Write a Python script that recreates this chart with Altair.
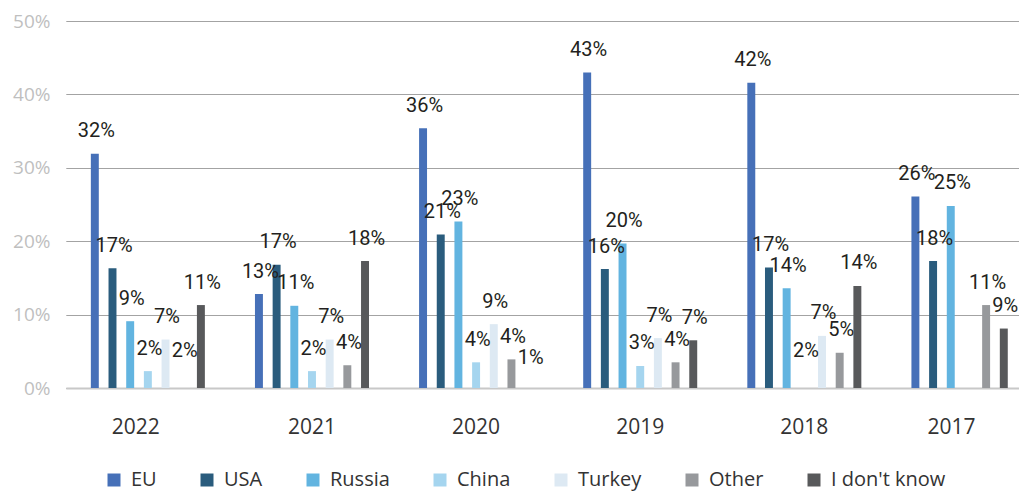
import altair as alt
import pandas as pd

years = ["2022", "2021", "2020", "2019", "2018", "2017"]
series = ["EU", "USA", "Russia", "China", "Turkey", "Other", "I don't know"]
# 2017 survey had no "Turkey" answer, so its groups hold one bar fewer
series_2017 = ["EU", "USA", "Russia", "China", "Other", "I don't know"]
colors = ["#4670b8", "#2a5c7d", "#62b4e0", "#a5d5ef", "#dde9f3", "#97999c", "#58595b"]

# bar heights (%), None = no bar drawn
eu_vals = [31.9, 12.8, 35.4, 43.0, 41.6, 26.1]
usa_vals = [16.3, 16.8, 20.9, 16.2, 16.4, 17.3]
russia_vals = [9.1, 11.2, 22.7, 19.7, 13.6, 24.8]
china_vals = [2.3, 2.3, 3.5, 3.0, None, None]
turkey_vals = [6.6, 6.6, 8.7, 6.8, 7.1, None]
other_vals = [None, 3.1, 3.9, 3.5, 4.8, 11.3]
idk_vals = [11.3, 17.3, None, 6.5, 13.9, 8.1]

# printed data labels (%)
eu_labels = [32, 13, 36, 43, 42, 26]
usa_labels = [17, 17, 21, 16, 17, 18]
russia_labels = [9, 11, 23, 20, 14, 25]
china_labels = [2, 2, 4, 3, 2, None]
turkey_labels = [7, 7, 9, 7, 7, None]
other_labels = [2, 4, 4, 4, 5, 11]
idk_labels = [11, 18, 1, 7, 14, 9]

vals = [eu_vals, usa_vals, russia_vals, china_vals, turkey_vals, other_vals, idk_vals]
labs = [eu_labels, usa_labels, russia_labels, china_labels, turkey_labels, other_labels, idk_labels]

rows = []
for si, s in enumerate(series):
    for yi, yr in enumerate(years):
        order = series_2017 if yr == "2017" else series
        if s not in order:
            continue
        v = vals[si][yi]
        lab = labs[si][yi]
        rows.append({
            "year": yr,
            "series": s,
            "slot": order.index(s),
            "value": v,
            "label": (f"{lab}%" if lab is not None else None),
            "label_y": (v if v is not None else lab),
        })
df = pd.DataFrame(rows)

x_enc = alt.X(
    "year:N",
    sort=years,
    scale=alt.Scale(range=[1.8, 986.5], paddingInner=0.246, paddingOuter=0.123),
    axis=alt.Axis(
        title=None, labelAngle=0, ticks=False, grid=False,
        domain=True, domainColor="#c8c8c8", domainWidth=2,
        labelFont="Open Sans", labelFontSize=21, labelColor="#333333",
        labelPadding=28,
        labelOffset={
            "condition": [
                {"test": "datum.value == '2022'", "value": -12},
                {"test": "datum.value == '2017'", "value": -17},
            ],
            "value": 0,
        },
    ),
)
xoff_enc = alt.XOffset(
    "slot:O",
    scale=alt.Scale(domain=list(range(7)), paddingInner=0.55, paddingOuter=0.275),
)

bars = alt.Chart(df).transform_filter("isValid(datum.value)").mark_bar().encode(
    x=x_enc,
    xOffset=xoff_enc,
    y=alt.Y(
        "value:Q",
        scale=alt.Scale(domain=[0, 50], nice=False),
        axis=alt.Axis(
            title=None, values=[0, 10, 20, 30, 40, 50], labelExpr="datum.value + '%'",
            domain=False, ticks=False, grid=True, gridColor="#a3a3a3", gridWidth=1,
            labelFont="Open Sans", labelFontSize=19, labelColor="#bfbfbf",
            labelPadding=14,
        ),
    ),
    color=alt.Color(
        "series:N",
        scale=alt.Scale(domain=series, range=colors),
        legend=alt.Legend(
            title=None, orient="none", legendX=40, legendY=449,
            direction="horizontal", columns=7, symbolType="square",
            symbolSize=169, symbolStrokeWidth=0, labelFont="Open Sans",
            labelFontSize=20, labelColor="#333333", columnPadding=40,
            labelOffset=7, symbolOffset=0,
        ),
    ),
)

texts = alt.Chart(df).transform_filter("isValid(datum.label)").mark_text(
    font="Roboto", fontSize=20, color="#231f20", dy=-22.5, dx=1.5, baseline="middle"
).encode(
    x=x_enc,
    xOffset=xoff_enc,
    y=alt.Y("label_y:Q"),
    text="label:N",
)

chart = alt.layer(bars, texts).properties(
    width=955,
    height=367,
    autosize=alt.AutoSizeParams(type="none"),
    padding={"left": 56, "top": 13, "right": 0, "bottom": 104},
).configure_view(stroke=None)

chart.save("out.html", embed_options={"renderer": "svg", "actions": False})
